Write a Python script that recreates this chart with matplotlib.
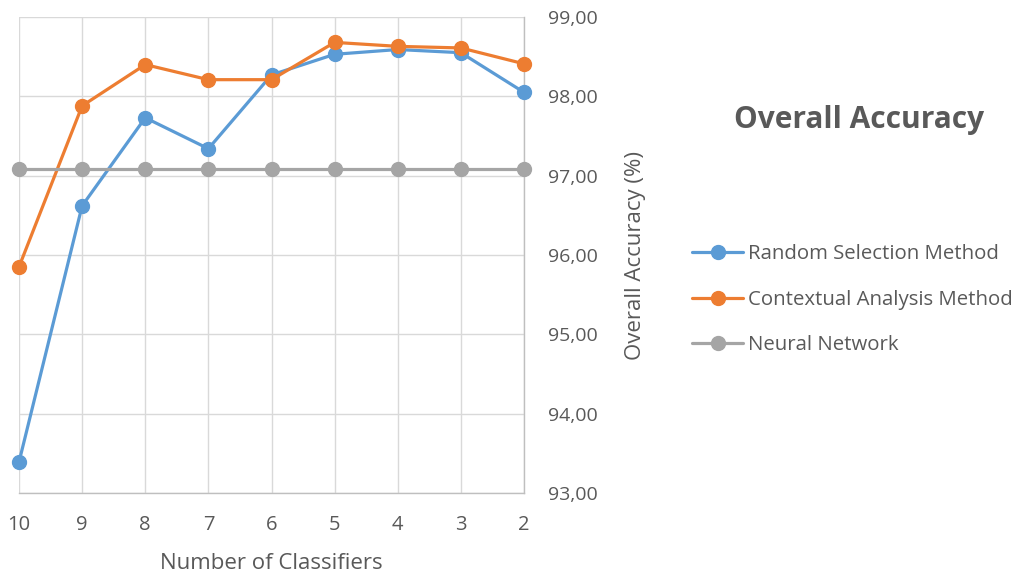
import matplotlib
matplotlib.use("Agg")
import matplotlib.pyplot as plt
from matplotlib.ticker import FuncFormatter

categories = ["10", "9", "8", "7", "6", "5", "4", "3", "2"]
random_sel = [93.39, 96.62, 97.73, 97.34, 98.27, 98.53, 98.59, 98.55, 98.05]
contextual = [95.85, 97.88, 98.40, 98.21, 98.21, 98.68, 98.63, 98.61, 98.41]
neural = [97.08] * 9
series_names = ["Random Selection Method", "Contextual Analysis Method", "Neural Network"]
colors = ["#5B9BD5", "#ED7D31", "#A5A5A5"]

plt.rcParams['font.family'] = ['Open Sans', 'DejaVu Sans']
txt = "#595959"

fig = plt.figure(figsize=(10.24, 5.82), dpi=100)
ax = fig.add_axes([19/1024, 1-493/582, (524-19)/1024, (493-17)/582])

x = list(range(len(categories)))
for vals, name, c in zip([random_sel, contextual, neural], series_names, colors):
    ax.plot(x, vals, color=c, lw=2.3, marker='o', markersize=10, label=name,
            solid_capstyle='round', clip_on=False, zorder=3)

ax.set_xlim(0, len(categories) - 1)
ax.set_ylim(93, 99)
ax.set_xticks(x)
ax.set_xticklabels(categories)
ax.set_yticks([93, 94, 95, 96, 97, 98, 99])
ax.yaxis.set_major_formatter(FuncFormatter(lambda v, p: f"{v:.2f}".replace('.', ',')))
ax.yaxis.tick_right()
ax.tick_params(axis='y', length=0, pad=17, labelsize=14, colors=txt)
ax.tick_params(axis='x', length=0, pad=16, labelsize=14.5, colors=txt)
ax.grid(True, color="#D9D9D9", lw=1)
ax.set_axisbelow(True)
for s in ['top', 'left']:
    ax.spines[s].set_visible(False)
for s in ['bottom', 'right']:
    ax.spines[s].set_color("#BFBFBF")
    ax.spines[s].set_linewidth(1)

ax.set_xlabel("Number of Classifiers", fontsize=16, color=txt, labelpad=13)
fig.text(635/1024, 1-256/582, "Overall Accuracy (%)", rotation=90, ha='center', va='center',
         fontsize=16, color=txt)
fig.text(859/1024, 1-120/582, "Overall Accuracy", ha='center', va='center',
         fontsize=21.5, fontweight='bold', color=txt)

leg = fig.legend(loc='upper left', bbox_to_anchor=(684/1024, 1-236/582), frameon=False,
                 fontsize=14.7, handlelength=2.5, labelspacing=1.25, handletextpad=0.25,
                 borderaxespad=0)
for t in leg.get_texts():
    t.set_color(txt)

fig.savefig("out.png", dpi=100)
